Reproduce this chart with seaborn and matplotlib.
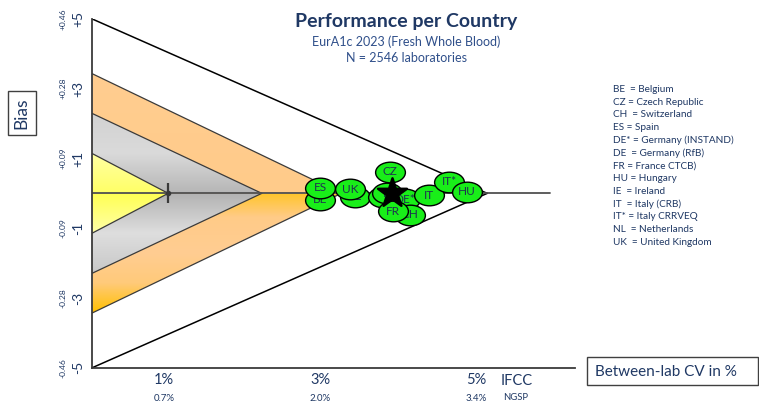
import numpy as np
import matplotlib
matplotlib.use("Agg")
import matplotlib.pyplot as plt
import seaborn as sns
from matplotlib.patches import Polygon, Rectangle
from matplotlib.path import Path
from matplotlib.markers import MarkerStyle
from matplotlib.colors import LinearSegmentedColormap

sns.set_style("white")
plt.rcParams["font.family"] = ["Lato", "DejaVu Sans"]

# ---- data -------------------------------------------------------------
countries = ["BE", "ES", "NL", "UK", "DE", "IE", "DE*", "CH", "FR", "IT", "IT*", "HU", "CZ"]
cv_pct = [3.00, 3.00, 3.44, 3.38, 3.80, 3.86, 4.09, 4.15, 3.93, 4.39, 4.65, 4.88, 3.89]
bias = [-0.19, 0.16, -0.10, 0.12, -0.10, 0.00, -0.17, -0.62, -0.51, -0.05, 0.33, 0.05, 0.62]
mean_cv = [3.92]
mean_bias = [0.0]

# performance zones: bias limit at the axis and CV where the limit reaches zero
zone_bias_limit = [1.14, 2.29, 3.43, 5.0]
zone_apex_cv = [1.05, 2.25, 3.27, 5.14]

x_ticks = [1, 2, 3, 4, 5]
x_labels_ifcc = ["1%", "", "3%", "", "5%"]
x_labels_ngsp = ["0.7%", "", "2.0%", "", "3.4%"]
y_ticks = [-5, -4, -3, -2, -1, 1, 2, 3, 4, 5]
y_labels_main = ["-5", "", "-3", "", "-1", "+1", "", "+3", "", "+5"]
y_labels_ngsp = ["-0.46", "", "-0.28", "", "-0.09", "+0.09", "", "+0.28", "", "+0.46"]

legend_lines = [
    "BE  = Belgium", "CZ = Czech Republic", "CH  = Switzerland", "ES = Spain",
    "DE* = Germany (INSTAND)", "DE  = Germany (RfB)", "FR = France CTCB)",
    "HU = Hungary", "IE  = Ireland", "IT  = Italy (CRB)", "IT* = Italy CRRVEQ",
    "NL  = Netherlands", "UK  = United Kingdom",
]

CV_MIN, CV_MAX = 0.077, 6.265
CENTER_END = 5.94
NAVY = "#1F3864"

# ---- figure -----------------------------------------------------------
W, H = 759, 407
fig = plt.figure(figsize=(W / 100, H / 100), dpi=100)
ax = fig.add_axes([92.3 / W, 39.3 / H, (575 - 92.3) / W, 348.7 / H])
ax.set_xlim(CV_MIN, CV_MAX)
ax.set_ylim(-5, 5)


def gradient_fill(verts, y0, y1, stops, z):
    poly = Polygon(verts, closed=True, fc="none", ec="none")
    ax.add_patch(poly)
    cmap = LinearSegmentedColormap.from_list("band", stops)
    grad = np.linspace(0, 1, 256).reshape(-1, 1)
    xs = [v[0] for v in verts]
    im = ax.imshow(grad, cmap=cmap, extent=[min(xs), max(xs), y0, y1],
                   origin="lower", aspect="auto", zorder=z, interpolation="bilinear")
    im.set_clip_path(poly)


zone_colors = {
    # (lower half stops from bottom to centre, upper half stops from centre to top)
    2: ([(0, "#FFC000"), (0.25, "#FFCA7A"), (0.5, "#FFCD92"), (0.8, "#FFCB88"), (1, "#FFC52A")],
        [(0, "#FFCB8A"), (1, "#FFCD90")]),
    1: ([(0, "#C8C8C8"), (0.5, "#DEDEDE"), (1, "#B2B2B2")],
        [(0, "#B6B6B6"), (0.5, "#DADADA"), (1, "#D2D2D2")]),
    0: ([(0, "#FFFFA8"), (1, "#FFFF52")],
        [(0, "#FFFF66"), (1, "#FFFFA4")]),
}

for i in (2, 1, 0):
    b, apex = zone_bias_limit[i], zone_apex_cv[i]
    low_stops, up_stops = zone_colors[i]
    gradient_fill([(CV_MIN, 0), (CV_MIN, b), (apex, 0)], 0, b, up_stops, 3 - i)
    gradient_fill([(CV_MIN, 0), (CV_MIN, -b), (apex, 0)], -b, 0, low_stops, 3 - i)
    for s in (1, -1):
        ax.plot([CV_MIN, apex], [s * b, 0], color="#3A3A3A", lw=0.9, zorder=4.5)

# outer acceptance triangle
for s in (1, -1):
    ax.plot([CV_MIN, zone_apex_cv[3]], [s * zone_bias_limit[3], 0], color="black", lw=1.1, zorder=4.5)

# centre line and the 1 % reference mark
ax.plot([CV_MIN, CENTER_END], [0, 0], color="#505050", lw=1.3, zorder=5)
ax.plot([zone_apex_cv[0]], [0], marker="|", ms=14, mew=1.6, color="#3A3A3A", zorder=5.5)
ax.plot([zone_apex_cv[0]], [0], marker="o", ms=3, color="#3A3A3A", zorder=5.5)

# country ellipses, each drawn above the previous one
circle = Path.unit_circle()
ellipse = Path(circle.vertices * np.array([1.0, 18 / 26]), circle.codes)
ellipse_marker = MarkerStyle(ellipse)
for k, (code, x, y) in enumerate(zip(countries, cv_pct, bias)):
    z = 10 + 2 * k
    sns.scatterplot(x=[x], y=[y], marker=ellipse_marker, s=460, color="#19EE19",
                    edgecolor="black", linewidth=1.0, zorder=z, legend=False, ax=ax)
    ax.text(x, y, code, ha="center", va="center", fontsize=8.5, color="#1E3350", zorder=z + 1)

sns.scatterplot(x=mean_cv, y=mean_bias, marker="*", s=480, color="black",
                edgecolor="black", zorder=60, legend=False, ax=ax)

# ---- axes styling -----------------------------------------------------
for side in ("top", "right"):
    ax.spines[side].set_visible(False)
for side in ("left", "bottom"):
    ax.spines[side].set_color("#3A3A3A")
    ax.spines[side].set_linewidth(1.3)
    ax.spines[side].set_zorder(6)

ax.set_xticks(x_ticks)
ax.set_xticklabels(x_labels_ifcc, fontsize=10.5, color=NAVY)
ax.tick_params(axis="x", direction="in", length=8, width=1.3, color="#3A3A3A", pad=9)
for lab in ax.get_xticklabels():
    lab.set_va("center")

ax.set_yticks(y_ticks)
ax.set_yticklabels(y_labels_main, fontsize=10, color=NAVY, rotation=90, va="center")
ax.tick_params(axis="y", direction="in", length=5, width=1.3, color="#3A3A3A", pad=6)
ax.grid(False)

xfrac = ax.get_xaxis_transform()
yfrac = ax.get_yaxis_transform()
for x, lab in zip(x_ticks, x_labels_ngsp):
    if lab:
        ax.text(x, -0.087, lab, transform=xfrac, ha="center", va="center",
                fontsize=7, color=NAVY, clip_on=False)
for y, lab in zip(y_ticks, y_labels_ngsp):
    if lab:
        ax.text(-0.06, y, lab, transform=yfrac, ha="center", va="center",
                fontsize=6, color=NAVY, rotation=90, clip_on=False)

fig.text(501 / W, 1 - 381 / H, "IFCC", fontsize=10.5, color=NAVY, ha="left", va="center")
fig.text(503 / W, 1 - 398 / H, "NGSP", fontsize=6.8, color=NAVY, ha="left", va="center")

# axis name boxes
fig.text(21.7 / W, 1 - 113 / H, "Bias", rotation=90, fontsize=12.5, color=NAVY,
         ha="center", va="center",
         bbox=dict(boxstyle="square,pad=0.35", fc="white", ec="#404040", lw=1))
fig.patches.append(Rectangle((587 / W, 1 - 385 / H), (758 - 587) / W, 28 / H,
                             transform=fig.transFigure, fc="white", ec="#404040", lw=1))
fig.text(595 / W, 1 - 372 / H, "Between-lab CV in %", fontsize=11, color=NAVY,
         ha="left", va="center")

# titles
fig.text(406 / W, 1 - 27 / H, "Performance per Country", fontsize=14, fontweight="bold",
         color=NAVY, ha="center", va="baseline")
fig.text(406 / W, 1 - 45.7 / H, "EurA1c 2023 (Fresh Whole Blood)", fontsize=9,
         color="#2F4F8A", ha="center", va="baseline")
fig.text(406 / W, 1 - 61.7 / H, "N = 2546 laboratories", fontsize=9,
         color="#2F4F8A", ha="center", va="baseline")

# country key
for i, line in enumerate(legend_lines):
    fig.text(613 / W, 1 - (89.3 + i * 12.75) / H, line, fontsize=7.2, color=NAVY,
             ha="left", va="center")

fig.savefig("out.png", dpi=100)
